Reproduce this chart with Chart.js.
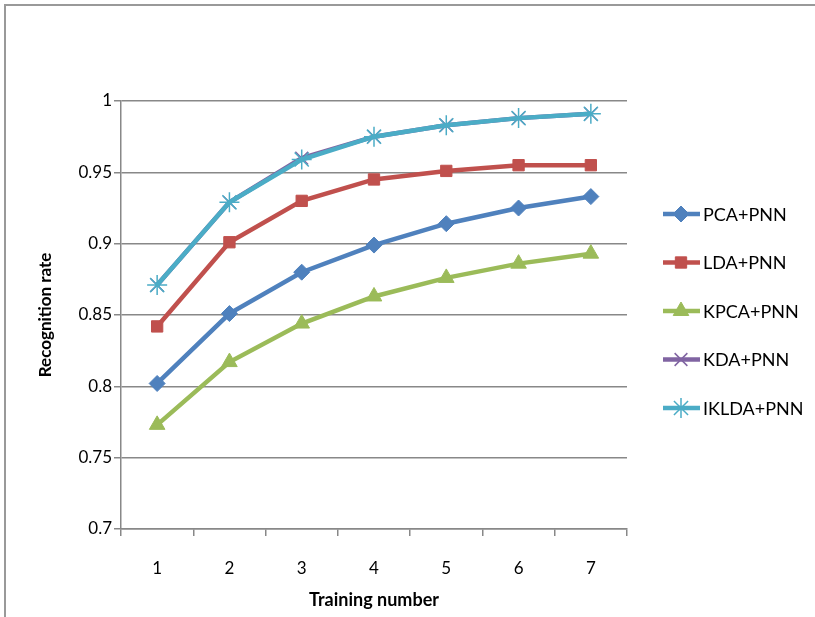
<!DOCTYPE html>
<html>
<head>
<meta charset="utf-8">
<script src="https://cdn.jsdelivr.net/npm/chart.js@4"></script>
<style>
  html, body { margin: 0; padding: 0; background: #fff; }
  #wrap { width: 815px; height: 617px; position: relative; }
</style>
</head>
<body>
<div id="wrap"><canvas id="chart" width="815" height="617"></canvas></div>
<script>
const trainingNumbers = ['1', '2', '3', '4', '5', '6', '7'];
const pcaPnn   = [0.802, 0.851, 0.880, 0.899, 0.914, 0.925, 0.933];
const ldaPnn   = [0.842, 0.901, 0.930, 0.945, 0.951, 0.955, 0.955];
const kpcaPnn  = [0.773, 0.817, 0.844, 0.863, 0.876, 0.886, 0.893];
const kdaPnn   = [0.871, 0.929, 0.960, 0.975, 0.983, 0.988, 0.991];
const ikldaPnn = [0.871, 0.929, 0.959, 0.975, 0.983, 0.988, 0.991];

const FONT = 'Lato, "Open Sans", sans-serif';
const GRID = '#888888';

function series(label, data, color, pointStyle, radius, order) {
  return {
    label: label,
    data: data,
    order: order,
    borderColor: color,
    backgroundColor: color,
    borderWidth: 4.5,
    pointStyle: pointStyle,
    pointRadius: radius,
    pointBorderWidth: pointStyle === 'star' || pointStyle === 'crossRot' ? 1.5 : 1,
    pointBorderColor: color,
    pointBackgroundColor: color,
    tension: 0
  };
}

// legend on the right, drawn as Excel does: short line with marker in middle
const sideLegend = {
  id: 'sideLegend',
  afterDraw(chart) {
    const ctx = chart.ctx;
    const startY = 214, step = 48.5;
    ctx.save();
    chart.data.datasets.forEach((ds, i) => {
      const y = startY + i * step;
      ctx.strokeStyle = ds.borderColor;
      ctx.lineWidth = 4.5;
      ctx.beginPath();
      ctx.moveTo(663, y);
      ctx.lineTo(700, y);
      ctx.stroke();
      ctx.fillStyle = ds.backgroundColor;
      ctx.lineWidth = ds.pointBorderWidth;
      Chart.helpers.drawPoint(ctx, {
        pointStyle: ds.pointStyle,
        radius: ds.pointRadius,
        rotation: 0,
        borderWidth: ds.pointBorderWidth
      }, 681, y);
      ctx.fillStyle = '#000';
      ctx.font = '18px ' + FONT;
      ctx.textBaseline = 'middle';
      ctx.textAlign = 'left';
      ctx.fillText(ds.label, 703, y + 1);
    });
    ctx.restore();
  }
};

const frame = {
  id: 'frame',
  beforeDraw(chart) {
    const ctx = chart.ctx;
    ctx.save();
    ctx.strokeStyle = '#999';
    ctx.lineWidth = 2;
    ctx.strokeRect(5, 5, 900, 700);
    ctx.restore();
  }
};

new Chart(document.getElementById('chart'), {
  type: 'line',
  data: {
    labels: trainingNumbers,
    datasets: [
      series('PCA+PNN', pcaPnn, '#4F81BD', 'rectRot', 8, 3),
      series('LDA+PNN', ldaPnn, '#C0504D', 'rect', 8, 2),
      series('KPCA+PNN', kpcaPnn, '#9BBB59', 'triangle', 9, 4),
      series('KDA+PNN', kdaPnn, '#8064A2', 'crossRot', 9, 1),
      series('IKLDA+PNN', ikldaPnn, '#4BACC6', 'star', 10, 0)
    ]
  },
  options: {
    responsive: false,
    animation: false,
    layout: { padding: { left: 35, right: 188, top: 101, bottom: 4 } },
    plugins: {
      legend: { display: false },
      tooltip: { enabled: false }
    },
    scales: {
      x: {
        offset: true,
        grid: {
          display: true,
          offset: true,
          drawOnChartArea: false,
          drawTicks: true,
          tickLength: 7,
          color: GRID,
          lineWidth: 1.5
        },
        border: { color: GRID, width: 1.5 },
        ticks: { color: '#000', padding: 22, font: { family: FONT, size: 17 } },
        title: {
          display: true,
          text: 'Training number',
          color: '#000',
          padding: { top: 0, bottom: 2 },
          font: { family: FONT, size: 18, weight: 'bold' }
        },
        afterFit(scale) { scale.height = 84; }
      },
      y: {
        min: 0.7,
        max: 1,
        grid: {
          color: GRID,
          lineWidth: 1.5,
          tickLength: 7
        },
        border: { color: GRID, width: 1.5 },
        ticks: {
          stepSize: 0.05,
          color: '#000',
          padding: 2,
          font: { family: FONT, size: 17 },
          callback: v => String(Math.round(v * 100) / 100)
        },
        title: {
          display: true,
          text: 'Recognition rate',
          color: '#000',
          padding: 0,
          font: { family: FONT, size: 17, weight: 'bold' }
        },
        afterFit(scale) { scale.width = 86; }
      }
    }
  },
  plugins: [frame, sideLegend]
});
</script>
</body>
</html>
